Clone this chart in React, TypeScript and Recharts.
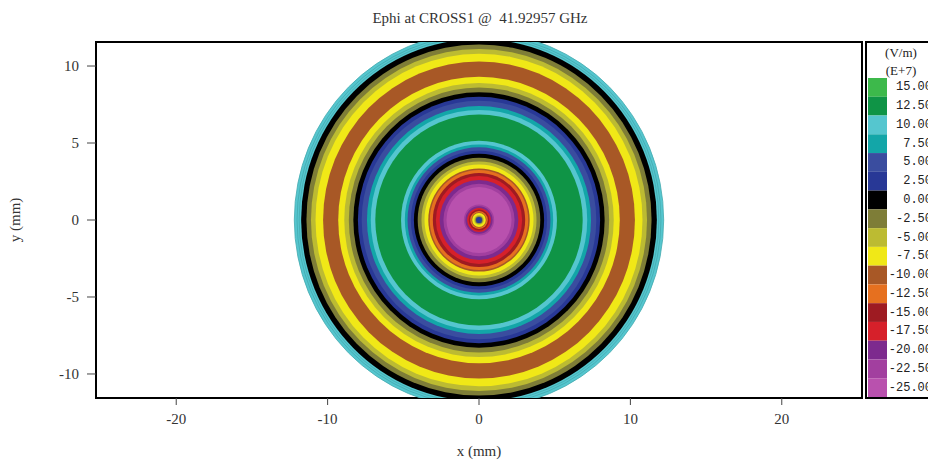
import React from 'react';
import { ScatterChart, Scatter, XAxis, YAxis, ReferenceArea } from 'recharts';

// colour map levels (E+7 V/m), top of the colour bar first
const levelValues = [15, 12.5, 10, 7.5, 5, 2.5, 0, -2.5, -5, -7.5, -10, -12.5, -15, -17.5, -20, -22.5, -25];
const levelColors = [
  '#3db94b', '#0f9446', '#55c6cf', '#13a6a8', '#3a4d9f', '#283896', '#000000',
  '#7e7d37', '#bcbb32', '#f0e817', '#a85826', '#e6701f', '#9e1b22', '#d6202a',
  '#7d2a8e', '#a23f9f', '#b951ae',
];

// contour bands: outer radius (mm) and the level each band falls in, outermost first
const ringRadii = [
  12.2, 11.75, 11.4, 11.1, 10.8, 10.3, 9.3, 8.9, 8.6, 8.3, 8.0, 7.75, 7.4, 7.15, 6.85,
  5.15, 4.9, 4.72, 4.5, 4.3, 4.05, 3.8, 3.6, 3.35, 3.25, 3.05, 2.85, 2.6, 2.35, 2.15,
  1.0, 0.9, 0.78, 0.68, 0.58, 0.5, 0.45, 0.32, 0.25, 0.2,
];
const ringLevels = [
  10, 0, -2.5, -5, -7.5, -10, -7.5, -5, -2.5, 0, 2.5, 5, 7.5, 10, 12.5,
  10, 7.5, 5, 2.5, 0, -2.5, -5, -7.5, -10, -12.5, -15, -17.5, -20, -22.5, -25,
  -22.5, -20, -17.5, -15, -12.5, -10, -7.5, -5, -2.5, 2.5,
];
// faint mesh outlines in the outer dielectric ring (mm)
const meshRadii = [12.2, 12.02, 11.88];

const xTicks = [-20, -10, 0, 10, 20];
const yTicks = [-10, -5, 0, 5, 10];
const X_DOMAIN: [number, number] = [-25.3, 25.3];
const Y_DOMAIN: [number, number] = [-11.56, 11.56];

const W = 928;
const H = 460;
const MARGIN = { top: 42, right: 66, bottom: 0, left: 0 };
const Y_AXIS_W = 96;
const X_AXIS_H = 62;
const plotW = W - MARGIN.left - MARGIN.right - Y_AXIS_W;
const plotH = H - MARGIN.top - MARGIN.bottom - X_AXIS_H;
const kx = plotW / (X_DOMAIN[1] - X_DOMAIN[0]);
const ky = plotH / (Y_DOMAIN[1] - Y_DOMAIN[0]);

const SERIF = '"Liberation Serif", "DejaVu Serif", serif';
const MONO = '"Liberation Mono", "DejaVu Sans Mono", monospace';

const colorOf = (level: number) => levelColors[levelValues.indexOf(level)];

const rings = ringRadii.map((r, i) => ({ x: 0, y: 0, r, color: colorOf(ringLevels[i]) }));
const mesh = meshRadii.map((r) => ({ x: 0, y: 0, r }));

const RingShape = (props: any) => {
  const { cx, cy, payload } = props;
  return <ellipse cx={cx} cy={cy} rx={payload.r * kx} ry={payload.r * ky} fill={payload.color} />;
};

const MeshShape = (props: any) => {
  const { cx, cy, payload } = props;
  return (
    <ellipse
      cx={cx}
      cy={cy}
      rx={payload.r * kx}
      ry={payload.r * ky}
      fill="none"
      stroke="#44a9ae"
      strokeWidth={0.8}
    />
  );
};

const tickStyle = { fill: '#333', fontSize: 15, fontFamily: SERIF };

const ColorBar = () => {
  const top = 78;
  const step = (397 - top) / levelValues.length;
  return (
    <svg
      width={W}
      height={H}
      style={{ position: 'absolute', left: 0, top: 0, pointerEvents: 'none' }}
    >
      <text
        x={480}
        y={18}
        textAnchor="middle"
        dominantBaseline="central"
        fontFamily={SERIF}
        fontSize={15}
        fill="#333"
        style={{ whiteSpace: 'pre' }}
      >
        {'Ephi at CROSS1 @  41.92957 GHz'}
      </text>
      <rect x={866} y={42} width={100} height={356} fill="#fff" stroke="#000" strokeWidth={2} />
      <text x={901} y={52} textAnchor="middle" dominantBaseline="central" fontFamily={SERIF} fontSize={13} fill="#222">
        (V/m)
      </text>
      <text x={901} y={70} textAnchor="middle" dominantBaseline="central" fontFamily={SERIF} fontSize={13} fill="#222">
        (E+7)
      </text>
      {levelValues.map((v, i) => (
        <g key={v}>
          <rect x={868} y={top + i * step} width={19} height={step} fill={levelColors[i]} />
          <text
            x={932}
            y={top + i * step + step / 2}
            textAnchor="end"
            dominantBaseline="central"
            fontFamily={MONO}
            fontSize={12}
            fill="#222"
          >
            {v.toFixed(2)}
          </text>
        </g>
      ))}
    </svg>
  );
};

export default function App() {
  return (
    <div
      style={{
        position: 'absolute',
        left: 0,
        top: 0,
        width: W,
        height: H,
        overflow: 'hidden',
        background: '#fff',
      }}
    >
      <ScatterChart width={W} height={H} margin={MARGIN}>
        <XAxis
          type="number"
          dataKey="x"
          domain={X_DOMAIN}
          ticks={xTicks}
          allowDataOverflow
          height={X_AXIS_H}
          tickSize={7}
          tickMargin={8}
          tick={tickStyle}
          tickLine={{ stroke: '#444' }}
          axisLine={false}
          label={{ value: 'x (mm)', position: 'insideBottom', offset: 4, fill: '#333', fontSize: 15, fontFamily: SERIF }}
        />
        <YAxis
          type="number"
          dataKey="y"
          domain={Y_DOMAIN}
          ticks={yTicks}
          allowDataOverflow
          width={Y_AXIS_W}
          tickSize={9}
          tickMargin={8}
          tick={tickStyle}
          tickLine={{ stroke: '#444' }}
          axisLine={false}
          label={{
            value: 'y (mm)',
            angle: -90,
            position: 'insideLeft',
            offset: 15,
            fill: '#333',
            fontSize: 15,
            fontFamily: SERIF,
            style: { textAnchor: 'middle' },
          }}
        />
        <Scatter data={rings} shape={RingShape} isAnimationActive={false} />
        <Scatter data={mesh} shape={MeshShape} isAnimationActive={false} />
        <ReferenceArea
          x1={X_DOMAIN[0]}
          x2={X_DOMAIN[1]}
          y1={Y_DOMAIN[0]}
          y2={Y_DOMAIN[1]}
          fill="none"
          fillOpacity={0}
          stroke="#000"
          strokeWidth={2}
          ifOverflow="visible"
        />
      </ScatterChart>
      <ColorBar />
    </div>
  );
}
